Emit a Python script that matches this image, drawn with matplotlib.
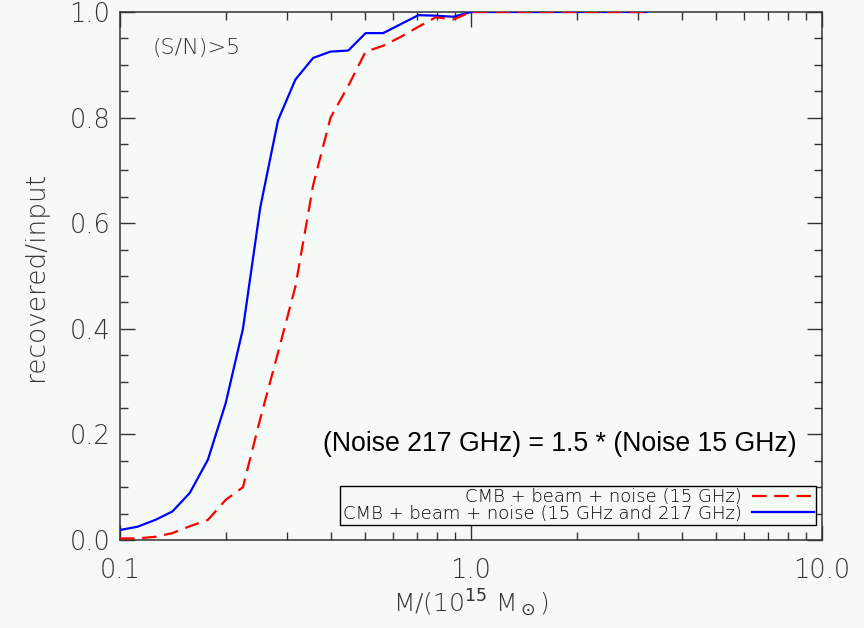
import matplotlib
matplotlib.use("Agg")
import matplotlib.pyplot as plt
from matplotlib.ticker import FixedLocator, NullFormatter, LogLocator

mass = [0.1, 0.112, 0.126, 0.141, 0.158, 0.178, 0.2, 0.224, 0.251, 0.282, 0.316,
        0.355, 0.398, 0.447, 0.501, 0.562, 0.631, 0.708, 0.794, 0.891, 1.0,
        1.12, 1.26, 1.41, 1.58, 1.78, 2.0, 2.24, 2.51, 2.82, 3.16]

frac_15_217 = [0.019, 0.025, 0.038, 0.054, 0.089, 0.152, 0.259, 0.40, 0.63, 0.795, 0.872,
               0.913, 0.925, 0.927, 0.96, 0.96, 0.977, 0.994, 0.993, 0.991, 1.0,
               1.0, 1.0, 1.0, 1.0, 1.0, 1.0, 1.0, 1.0, 1.0, 1.0]

frac_15 = [0.003, 0.003, 0.006, 0.013, 0.026, 0.038, 0.076, 0.10, 0.23, 0.355, 0.48,
           0.672, 0.80, 0.86, 0.925, 0.936, 0.953, 0.972, 0.99, 0.986, 1.0,
           1.0, 1.0, 1.0, 1.0, 1.0, 1.0, 1.0, 1.0, 1.0, 1.0]

xticks = [0.1, 1.0, 10.0]
xticklabels = ["0.1", "1.0", "10.0"]
yticks = [0.0, 0.2, 0.4, 0.6, 0.8, 1.0]
yticklabels = ["0.0", "0.2", "0.4", "0.6", "0.8", "1.0"]

label_15 = "CMB + beam + noise (15 GHz)"
label_both = "CMB + beam + noise (15 GHz and 217 GHz)"

bg = "#f6faf6"
ink = "#333333"

fig = plt.figure(figsize=(8.64, 6.28), dpi=100, facecolor=bg)
ax = fig.add_axes([120/864, 88/628, 702/864, 528/628], facecolor=bg)

ax.plot(mass, frac_15_217, color="#0000ff", lw=1.6, label=label_both, zorder=3)
ax.plot(mass, frac_15, color="#ff0000", lw=1.6, linestyle=(0, (6.5, 3.5)), label=label_15, zorder=4)

ax.set_xscale("log")
ax.set_xlim(0.1, 10.0)
ax.set_ylim(0.0, 1.0)

ax.xaxis.set_major_locator(FixedLocator(xticks))
ax.set_xticklabels(xticklabels)
ax.xaxis.set_minor_locator(LogLocator(base=10, subs=[2, 3, 4, 5, 6, 7, 8, 9]))
ax.xaxis.set_minor_formatter(NullFormatter())
ax.yaxis.set_major_locator(FixedLocator(yticks))
ax.set_yticklabels(yticklabels)
ax.yaxis.set_minor_locator(FixedLocator([v / 20 for v in range(21)]))

for lab in ax.get_xticklabels() + ax.get_yticklabels():
    lab.set_fontfamily("DejaVu Sans")
    lab.set_fontsize(18.5)
    lab.set_fontweight("light")
    lab.set_color(ink)

ax.tick_params(which="major", direction="in", length=11, width=1.0, color=ink,
               top=True, right=True)
ax.tick_params(which="minor", direction="in", length=6, width=1.0, color=ink,
               top=True, right=True)
ax.tick_params(axis="y", which="major", pad=7)
ax.tick_params(axis="x", which="major", pad=13)
for s in ax.spines.values():
    s.set_color(ink)
    s.set_linewidth(1.1)

ax.set_ylabel("recovered/input", fontsize=19, fontweight="light", color=ink)
ax.yaxis.label.set_va("center")
ax.yaxis.set_label_coords(-0.121, 0.5)
ax.set_xlabel(r"M/(10$^{15}$ M$_\odot$)", fontsize=18, fontweight="light", color=ink)
ax.xaxis.label.set_va("center")
ax.xaxis.set_label_coords(0.5, -0.119)

ax.text(0.046, 0.951, "(S/N)>5", transform=ax.transAxes, fontsize=16,
        fontweight="light", color=ink, ha="left", va="top")
ax.text(0.9644, 0.1686, "(Noise 217 GHz) = 1.5 * (Noise 15 GHz)", transform=ax.transAxes,
        fontsize=19.2, family="Liberation Sans", color="black", ha="right", va="baseline")

handles, labels = ax.get_legend_handles_labels()
leg = ax.legend(handles[::-1], labels[::-1], loc="lower right", bbox_to_anchor=(0.991, 0.029),
                markerfirst=False, fancybox=False, framealpha=1, facecolor=bg,
                edgecolor="black", handlelength=3.4, handletextpad=0.6,
                labelspacing=-0.1, borderpad=0.12, borderaxespad=0.0,
                prop=dict(family="DejaVu Sans", size=13, weight="light"))
leg.get_frame().set_linewidth(1.0)
for t in leg.get_texts():
    t.set_color("black")

fig.savefig("out.png", dpi=100, facecolor=bg)
